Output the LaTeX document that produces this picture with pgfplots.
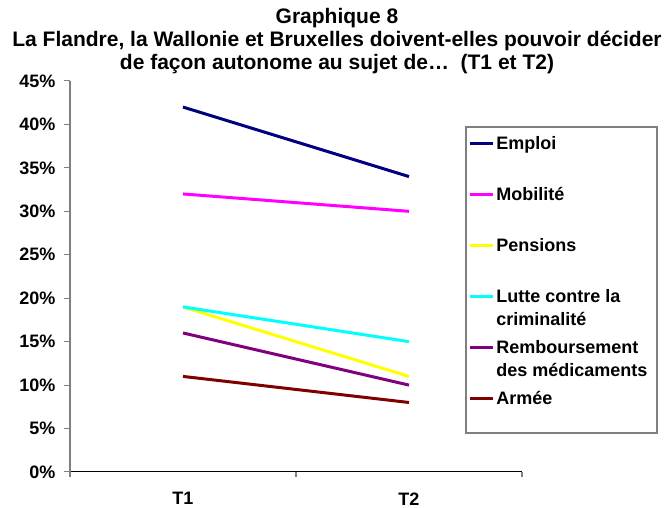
\documentclass[border=0pt]{standalone}
\usepackage{fontspec}
\setmainfont{Liberation Sans}
\usepackage{pgfplots}
\pgfplotsset{compat=1.18}
\definecolor{cEmploi}{RGB}{0,0,128}
\definecolor{cMob}{RGB}{255,0,255}
\definecolor{cPens}{RGB}{255,255,0}
\definecolor{cLutte}{RGB}{0,255,255}
\definecolor{cRemb}{RGB}{128,0,128}
\definecolor{cArmee}{RGB}{128,0,0}
\newcommand\legtxt[2]{\raisebox{0pt}[13pt][0pt]{\parbox[t]{158pt}{#1\\\mbox{}#2}}}
\newcommand\tickfont{\bfseries\fontsize{18}{21}\selectfont}
\newcommand\yl[1]{{\bfseries\fontsize{18}{21}\selectfont #1\%}}
\begin{document}
\begin{tikzpicture}[x=1pt,y=1pt]
\useasboundingbox (0,0) rectangle (665,508);
\node[anchor=north, inner sep=0pt, align=center, font=\bfseries\fontsize{21}{23}\selectfont] at (337,500)
 {Graphique 8\\La Flandre, la Wallonie et Bruxelles doivent-elles pouvoir décider\\de façon autonome au sujet de…\ \ (T1 et T2)};
\draw[gray, line width=1.5pt] (466,381) rectangle (657,75);
\begin{axis}[
 at={(70pt,36pt)}, anchor=south west, scale only axis, width=452pt, height=391pt,
 xmin=0.5, xmax=2.5, ymin=0, ymax=45,
 axis x line*=bottom, axis y line*=left,
 x axis line style={-, black, line width=1pt},
 y axis line style={-, gray, line width=2pt},
 tick align=outside,
 xtick={1,2}, xticklabels={T1,T2},
 major x tick style={draw=none},
 minor xtick={0.5,1.5,2.5},
 minor x tick style={gray, line width=1.5pt},
 minor tick length=5pt,
 major tick length=6pt,
 ytick={0,5,...,45},
 yticklabels={\yl{0},\yl{5},\yl{10},\yl{15},\yl{20},\yl{25},\yl{30},\yl{35},\yl{40},\yl{45}},
 y tick style={gray, line width=1pt},
 tick label style={font=\tickfont},
 yticklabel style={font=\tickfont, xshift=-5pt},
 xticklabel style={font=\tickfont, yshift=-11pt},
 legend style={at={(axis description cs:0.881,0.863)}, anchor=north west,
   draw=none, fill=none, font=\bfseries\fontsize{18}{23}\selectfont,
   inner xsep=0pt, inner ysep=0pt, row sep=32.5pt,
   cells={anchor=base west, inner xsep=0pt, inner ysep=0pt}},
 legend image code/.code={\draw[#1, line width=3pt] (0pt,6.5pt) -- (23pt,6.5pt);},
 every axis plot/.append style={line width=3pt, mark=none},
]
\addplot[cEmploi] coordinates {(1,42) (2,34)};
\addlegendentry{\legtxt{Emploi}{}}
\addplot[cMob] coordinates {(1,32) (2,30)};
\addlegendentry{\legtxt{Mobilité}{}}
\addplot[cPens] coordinates {(1,19) (2,11)};
\addlegendentry{\legtxt{Pensions}{}}
\addplot[cLutte] coordinates {(1,19) (2,15)};
\addlegendentry{\legtxt{Lutte contre la}{criminalité}}
\addplot[cRemb] coordinates {(1,16) (2,10)};
\addlegendentry{\legtxt{Remboursement}{des médicaments}}
\addplot[cArmee] coordinates {(1,11) (2,8)};
\addlegendentry{\legtxt{Armée}{}}
\end{axis}
\end{tikzpicture}
\end{document}
